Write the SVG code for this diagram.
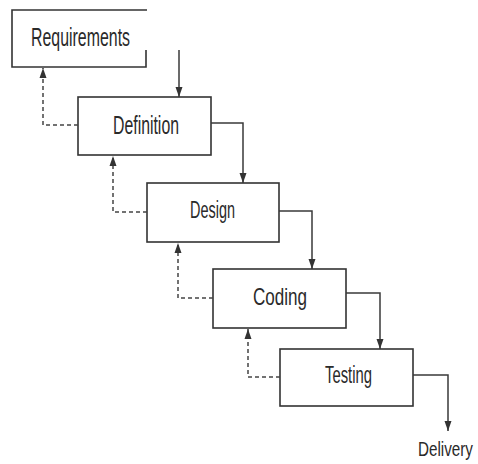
<svg xmlns="http://www.w3.org/2000/svg" width="478" height="464" viewBox="0 0 478 464">
  <style>
    .box { fill: #ffffff; stroke: #333333; stroke-width: 1.6; }
    .label { font-family: "Liberation Sans", Arial, sans-serif; fill: #2a2a2a; }
    .flow { fill: none; stroke: #3a3a3a; stroke-width: 1.5; }
    .back { fill: none; stroke: #444444; stroke-width: 1.5; stroke-dasharray: 4 3; }
  </style>
  <defs>
    <marker id="arrow" markerUnits="userSpaceOnUse" markerWidth="10" markerHeight="10" viewBox="0 0 10 10" refX="10" refY="5" orient="auto">
      <path d="M0,1.5 L10,5 L0,8.5 Z" fill="#333333"/>
    </marker>
  </defs>
  <rect width="478" height="464" fill="#ffffff"/>

  <!-- stage boxes -->
  <g id="requirements">
    <path class="box" d="M147,10 H12 V67 H146 V50" style="fill:none"/>
    <text class="label" x="31" y="46" font-size="26" textLength="99" lengthAdjust="spacingAndGlyphs">Requirements</text>
  </g>
  <g id="definition">
    <rect class="box" x="78" y="97" width="133" height="58"/>
    <text class="label" x="113" y="134" font-size="25" textLength="66" lengthAdjust="spacingAndGlyphs">Definition</text>
  </g>
  <g id="design">
    <rect class="box" x="147" y="183" width="132" height="59"/>
    <text class="label" x="190" y="218" font-size="23" textLength="45" lengthAdjust="spacingAndGlyphs">Design</text>
  </g>
  <g id="coding">
    <rect class="box" x="213" y="269" width="133" height="59"/>
    <text class="label" x="253" y="305" font-size="24" textLength="54" lengthAdjust="spacingAndGlyphs">Coding</text>
  </g>
  <g id="testing">
    <rect class="box" x="280" y="349" width="133" height="57"/>
    <text class="label" x="325" y="383" font-size="23" textLength="47" lengthAdjust="spacingAndGlyphs">Testing</text>
  </g>
  <g id="delivery">
    <!-- narrowed by a horizontal scale so the end output label stays inside the frame -->
    <text class="label" transform="translate(418,456) scale(0.725,1)" x="0" y="0" font-size="21">Delivery</text>
  </g>

  <!-- connectors -->
  <g id="connectors">
    <!-- forward flow -->
    <path class="flow" d="M179,50 V97" marker-end="url(#arrow)"/>
    <path class="flow" d="M211,123 H243 V183" marker-end="url(#arrow)"/>
    <path class="flow" d="M279,211 H312 V269" marker-end="url(#arrow)"/>
    <path class="flow" d="M346,293 H380 V349" marker-end="url(#arrow)"/>
    <path class="flow" d="M413,375 H448 V431" marker-end="url(#arrow)"/>
    <!-- feedback -->
    <path class="back" d="M78,125 H43 V68" marker-end="url(#arrow)"/>
    <path class="back" d="M147,212 H113 V156" marker-end="url(#arrow)"/>
    <path class="back" d="M213,298 H178 V243" marker-end="url(#arrow)"/>
    <path class="back" d="M280,377 H248 V329" marker-end="url(#arrow)"/>
  </g>
</svg>
